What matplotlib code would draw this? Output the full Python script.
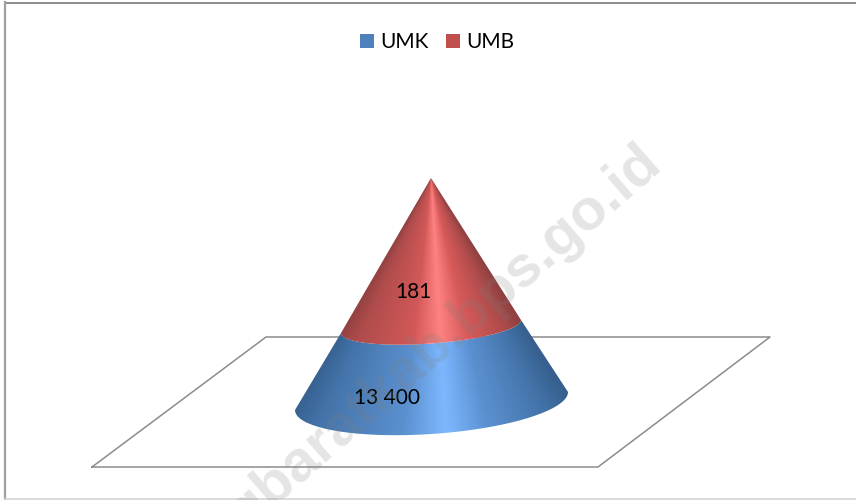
import matplotlib
matplotlib.use('Agg')
import matplotlib.pyplot as plt
import numpy as np
from matplotlib.colors import LinearSegmentedColormap
from matplotlib.patches import Patch, PathPatch
from matplotlib.path import Path

categories = ['UMK', 'UMB']
values = [13400, 181]
colors = ['#4f81bd', '#c0504d']

# shading across the cone, left edge to right edge
blue_stops = [(0, '#36608f'), (.12, '#4474aa'), (.4, '#5b90cf'), (.54, '#7db8ff'),
              (.68, '#5b90d0'), (.88, '#4474aa'), (1, '#36608f')]
red_stops = [(0, '#8f4040'), (.12, '#b04c4c'), (.4, '#d25858'), (.54, '#ff8282'),
             (.68, '#d85a5a'), (.88, '#b04c4c'), (1, '#8f4040')]

# layout in pixels
apex = (431, 178)
band_l, band_r, band_b = (341, 333), (521, 320), 17
base_l, base_r, base_b = (295, 410), (568, 392), 33
plane = [(92, 467), (266, 337), (770, 337), (598, 467), (92, 467)]
label_pos = [(387.5, 398), (413, 292)]


def lower_arc(left, right, minor):
    # lower half of a tilted ellipse, from left end to right end
    cx, cy = (left[0] + right[0]) / 2, (left[1] + right[1]) / 2
    dx, dy = (right[0] - left[0]) / 2, (right[1] - left[1]) / 2
    t = np.linspace(np.pi, 0, 80)
    return np.column_stack([cx + dx * np.cos(t), cy + dy * np.cos(t) + minor * np.sin(t)])


def shaded(ax, outline, stops):
    cmap = LinearSegmentedColormap.from_list('cone', stops)
    xs, ys = np.meshgrid(np.arange(280, 580, .5), np.arange(170, 445, .5))
    u = (xs - apex[0]) / np.maximum(ys - apex[1], 1)
    im = ax.imshow((u + .6) / 1.22, cmap=cmap, vmin=0, vmax=1, aspect='auto', interpolation='bilinear',
                   extent=(280, 580, 445, 170), zorder=3)
    p = PathPatch(Path(outline), fc='none', ec='none', transform=ax.transData)
    ax.add_patch(p)
    im.set_clip_path(p)


fig = plt.figure(figsize=(8.56, 5), dpi=100)
ax = fig.add_axes([0, 0, 1, 1])

# chart border (no right side in the crop) and floor
ax.plot([5, 856], [2.5, 2.5], color='#8c8c8c', lw=1.4, zorder=1)
ax.plot([5, 5], [2, 499], color='#a0a0a0', lw=1.6, zorder=1)
ax.plot([5, 856], [499, 499], color='#d4d4d4', lw=1.2, zorder=1)
ax.plot(*zip(*plane), color='#8c8c8c', lw=1.1, zorder=2)

band = lower_arc(band_l, band_r, band_b)
base = lower_arc(base_l, base_r, base_b)
shaded(ax, np.vstack([band, base[::-1], band[:1]]), blue_stops)
shaded(ax, np.vstack([[apex], band, [apex]]), red_stops)

for (x, y), v in zip(label_pos, values):
    ax.text(x, y, f'{v:,}'.replace(',', ' '), family='Lato', fontsize=15, ha='center', va='center',
            color='black', zorder=5)

handles = [Patch(fc=c, ec='none', label=n) for c, n in zip(colors, categories)]
ax.legend(handles=handles, ncol=2, loc='center', bbox_to_anchor=(437, 42.5), bbox_transform=ax.transData,
          frameon=False, prop={'family': 'Lato', 'size': 15}, handlelength=.68, handleheight=.68,
          handletextpad=.3, columnspacing=.85, borderpad=0, borderaxespad=0)

# site watermark
ax.text(654, 155, 'gbaratkab.bps.go.id', family='Liberation Sans', weight='bold', fontsize=42, rotation=41,
        rotation_mode='anchor', ha='right', va='center', color='#7f7f7f', alpha=.2, zorder=6, clip_on=True)

ax.set_xlim(0, 856)
ax.set_ylim(500, 0)
ax.axis('off')
plt.savefig('out.png', dpi=100)
